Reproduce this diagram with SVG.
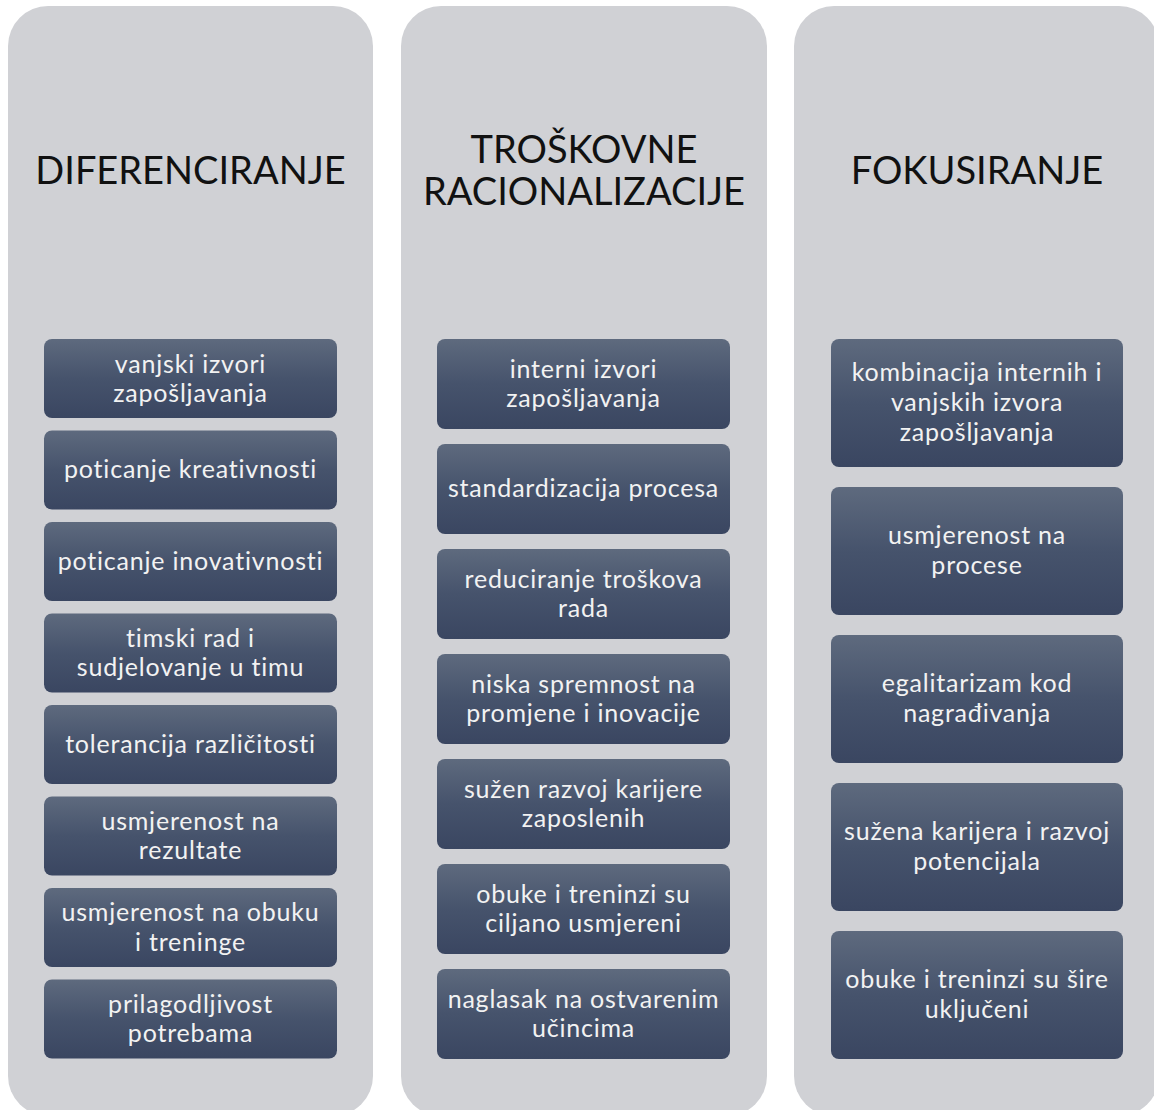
<svg xmlns="http://www.w3.org/2000/svg" width="1154" height="1110" viewBox="0 0 1154 1110">
<defs>
<linearGradient id="g" x1="0" y1="0" x2="0" y2="1">
<stop offset="0" stop-color="#5e6a7e"/>
<stop offset="0.5" stop-color="#46536c"/>
<stop offset="1" stop-color="#3a4661"/>
</linearGradient>
</defs>
<style>
.panel{fill:#d0d1d5}
.box{fill:url(#g)}
.title{font-family:Lato,"Open Sans",sans-serif;font-size:38px;fill:#111;text-anchor:middle;font-variant-ligatures:none}
.t{font-family:Lato,"Open Sans",sans-serif;font-size:25px;letter-spacing:0.8px;fill:#f2f2f2;text-anchor:middle;font-variant-ligatures:none}
</style>
<rect width="1154" height="1110" fill="#fff"/>
<g id="panel-diferenciranje">
<rect class="panel" x="8" y="6" width="365" height="1110" rx="40"/>
<text class="title" x="190.5" y="184">DIFERENCIRANJE</text>
</g>
<g id="panel-troskovne">
<rect class="panel" x="401" y="6" width="366" height="1110" rx="40"/>
<text class="title" x="584" y="163">TROŠKOVNE</text>
<text class="title" x="584" y="205">RACIONALIZACIJE</text>
</g>
<g id="panel-fokusiranje">
<rect class="panel" x="794" y="6" width="365" height="1110" rx="40"/>
<text class="title" x="977" y="184">FOKUSIRANJE</text>
</g>
<g id="connectors"></g>
<g id="d1"><rect class="box" x="44" y="339" width="293" height="79" rx="8"/><text class="t" x="190.5" y="373">vanjski izvori</text><text class="t" x="190.5" y="402">zapošljavanja</text></g>
<g id="d2"><rect class="box" x="44" y="430.5" width="293" height="79" rx="8"/><text class="t" x="190.5" y="478">poticanje kreativnosti</text></g>
<g id="d3"><rect class="box" x="44" y="522" width="293" height="79" rx="8"/><text class="t" x="190.5" y="569.5">poticanje inovativnosti</text></g>
<g id="d4"><rect class="box" x="44" y="613.5" width="293" height="79" rx="8"/><text class="t" x="190.5" y="646.5">timski rad i</text><text class="t" x="190.5" y="676">sudjelovanje u timu</text></g>
<g id="d5"><rect class="box" x="44" y="705" width="293" height="79" rx="8"/><text class="t" x="190.5" y="752.5">tolerancija različitosti</text></g>
<g id="d6"><rect class="box" x="44" y="796.5" width="293" height="79" rx="8"/><text class="t" x="190.5" y="829.5">usmjerenost na</text><text class="t" x="190.5" y="859">rezultate</text></g>
<g id="d7"><rect class="box" x="44" y="888" width="293" height="79" rx="8"/><text class="t" x="190.5" y="921">usmjerenost na obuku</text><text class="t" x="190.5" y="950.5">i treninge</text></g>
<g id="d8"><rect class="box" x="44" y="979.5" width="293" height="79" rx="8"/><text class="t" x="190.5" y="1012.5">prilagodljivost</text><text class="t" x="190.5" y="1042">potrebama</text></g>
<g id="t1"><rect class="box" x="437" y="339" width="293" height="90" rx="8"/><text class="t" x="583.5" y="377.5">interni izvori</text><text class="t" x="583.5" y="407">zapošljavanja</text></g>
<g id="t2"><rect class="box" x="437" y="444" width="293" height="90" rx="8"/><text class="t" x="583.5" y="497">standardizacija procesa</text></g>
<g id="t3"><rect class="box" x="437" y="549" width="293" height="90" rx="8"/><text class="t" x="583.5" y="587.5">reduciranje troškova</text><text class="t" x="583.5" y="617">rada</text></g>
<g id="t4"><rect class="box" x="437" y="654" width="293" height="90" rx="8"/><text class="t" x="583.5" y="692.5">niska spremnost na</text><text class="t" x="583.5" y="722">promjene i inovacije</text></g>
<g id="t5"><rect class="box" x="437" y="759" width="293" height="90" rx="8"/><text class="t" x="583.5" y="797.5">sužen razvoj karijere</text><text class="t" x="583.5" y="827">zaposlenih</text></g>
<g id="t6"><rect class="box" x="437" y="864" width="293" height="90" rx="8"/><text class="t" x="583.5" y="902.5">obuke i treninzi su</text><text class="t" x="583.5" y="932">ciljano usmjereni</text></g>
<g id="t7"><rect class="box" x="437" y="969" width="293" height="90" rx="8"/><text class="t" x="583.5" y="1007.5">naglasak na ostvarenim</text><text class="t" x="583.5" y="1037">učincima</text></g>
<g id="f1"><rect class="box" x="831" y="339" width="292" height="128" rx="8"/><text class="t" x="977" y="381">kombinacija internih i</text><text class="t" x="977" y="411">vanjskih izvora</text><text class="t" x="977" y="441">zapošljavanja</text></g>
<g id="f2"><rect class="box" x="831" y="487" width="292" height="128" rx="8"/><text class="t" x="977" y="544">usmjerenost na</text><text class="t" x="977" y="574">procese</text></g>
<g id="f3"><rect class="box" x="831" y="635" width="292" height="128" rx="8"/><text class="t" x="977" y="692">egalitarizam kod</text><text class="t" x="977" y="722">nagrađivanja</text></g>
<g id="f4"><rect class="box" x="831" y="783" width="292" height="128" rx="8"/><text class="t" x="977" y="840">sužena karijera i razvoj</text><text class="t" x="977" y="870">potencijala</text></g>
<g id="f5"><rect class="box" x="831" y="931" width="292" height="128" rx="8"/><text class="t" x="977" y="988">obuke i treninzi su šire</text><text class="t" x="977" y="1018">uključeni</text></g>
</svg>
